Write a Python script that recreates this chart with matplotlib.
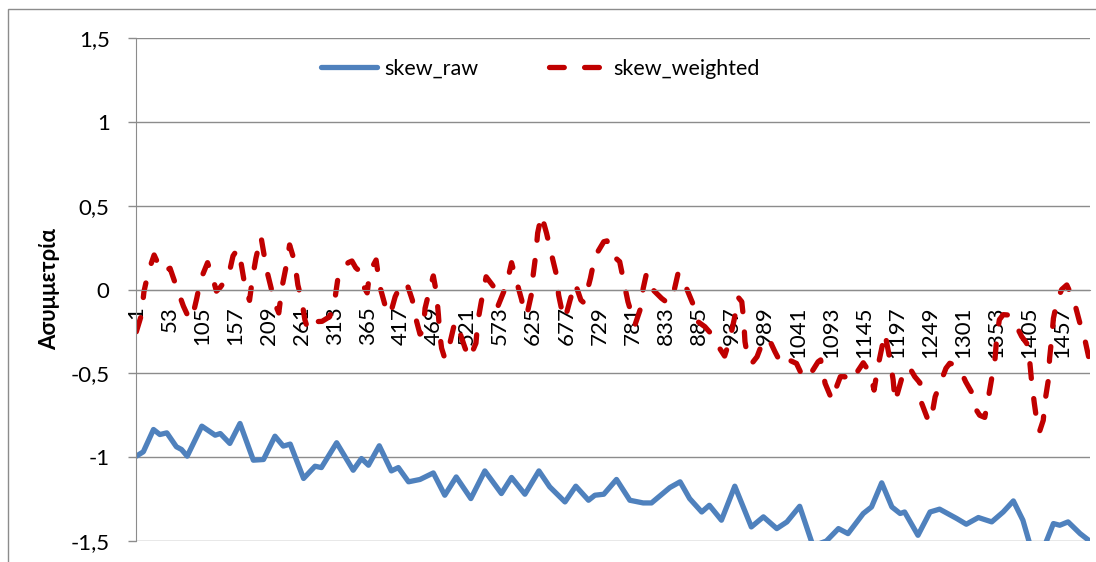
import matplotlib.pyplot as plt
from matplotlib.patches import Rectangle

plt.rcParams['font.family'] = ['Lato', 'DejaVu Sans']

n_points = 1500

# skew_raw: category index and value
raw_cat = [1, 12, 28, 38, 49, 64, 72, 81, 104, 125, 133, 148, 164, 185, 201, 219, 232, 243,
           264, 282, 292, 316, 342, 355, 366, 383, 402, 413, 429, 447, 468, 486, 504, 527,
           549, 575, 591, 612, 634, 651, 675, 692, 712, 722, 736, 756, 777, 798, 811, 840,
           856, 871, 890, 902, 921, 942, 968, 987, 1008, 1024, 1044, 1065, 1086, 1105, 1120,
           1144, 1157, 1173, 1189, 1202, 1209, 1230, 1249, 1264, 1291, 1306, 1325, 1346,
           1364, 1380, 1395, 1406, 1417, 1430, 1443, 1453, 1466, 1485, 1500]
raw_vals = [-0.994, -0.968, -0.835, -0.865, -0.855, -0.938, -0.954, -0.994, -0.815, -0.869,
            -0.859, -0.918, -0.799, -1.018, -1.014, -0.875, -0.934, -0.922, -1.127, -1.054,
            -1.062, -0.914, -1.078, -1.008, -1.048, -0.932, -1.082, -1.062, -1.147, -1.133,
            -1.094, -1.227, -1.118, -1.247, -1.082, -1.217, -1.121, -1.221, -1.082, -1.177,
            -1.267, -1.173, -1.257, -1.227, -1.221, -1.133, -1.257, -1.273, -1.273, -1.181,
            -1.147, -1.247, -1.327, -1.287, -1.376, -1.173, -1.416, -1.356, -1.426, -1.386,
            -1.293, -1.53, -1.5, -1.426, -1.456, -1.336, -1.297, -1.153, -1.297, -1.336,
            -1.327, -1.466, -1.327, -1.310, -1.366, -1.400, -1.360, -1.386, -1.327, -1.261,
            -1.376, -1.52, -1.58, -1.52, -1.396, -1.406, -1.386, -1.456, -1.5]

# skew_weighted: category index and value
weighted_cat = [1, 9, 13, 20, 29, 41, 46, 54, 64, 75, 85, 90, 96, 102, 113, 122, 127, 133,
                146, 153, 160, 164, 170, 177, 179, 184, 189, 197, 206, 214, 222, 225, 230,
                236, 242, 250, 255, 261, 266, 271, 282, 293, 305, 313, 318, 334, 340, 346,
                353, 360, 364, 368, 378, 384, 392, 400, 408, 417, 426, 435, 441, 447, 452,
                455, 462, 468, 473, 476, 478, 481, 486, 494, 502, 511, 518, 525, 535, 538,
                543, 551, 562, 570, 583, 591, 598, 607, 610, 615, 622, 625, 629, 632, 638,
                646, 654, 661, 665, 671, 675, 683, 691, 700, 705, 715, 722, 736, 741, 751,
                761, 768, 774, 785, 793, 798, 803, 811, 827, 837, 845, 853, 865, 877, 884,
                895, 909, 918, 926, 934, 942, 947, 953, 956, 958, 963, 969, 977, 987, 996,
                1005, 1016, 1027, 1039, 1050, 1060, 1073, 1077, 1084, 1095, 1100, 1108, 1115,
                1123, 1133, 1144, 1155, 1161, 1167, 1178, 1186, 1191, 1194, 1206, 1216, 1225,
                1233, 1236, 1246, 1250, 1257, 1267, 1274, 1280, 1288, 1299, 1305, 1314, 1322,
                1327, 1335, 1340, 1346, 1351, 1354, 1358, 1364, 1372, 1388, 1393, 1401, 1406,
                1409, 1413, 1416, 1421, 1427, 1430, 1435, 1437, 1440, 1443, 1449, 1456, 1464,
                1475, 1484, 1492, 1500]
weighted_vals = [-0.252, -0.152, -0.013, 0.106, 0.206, 0.106, 0.11, 0.127, 0.017, -0.099,
                 -0.182, -0.15, -0.053, 0.057, 0.16, 0.057, -0.01, 0.013, 0.081, 0.2, 0.24,
                 0.196, 0.061, -0.043, -0.065, 0.076, 0.186, 0.315, 0.116, -0.007, -0.112,
                 -0.14, 0.013, 0.127, 0.266, 0.166, 0.027, -0.063, -0.18, -0.242, -0.192,
                 -0.19, -0.162, -0.063, 0.067, 0.16, 0.17, 0.13, 0.106, 0.007, -0.02, 0.106,
                 0.176, 0.017, -0.093, -0.152, -0.043, 0.03, 0.04, -0.063, -0.18, -0.266,
                 -0.25, -0.112, -0.003, 0.081, -0.023, -0.152, -0.261, -0.35, -0.411, -0.321,
                 -0.192, -0.272, -0.35, -0.411, -0.32, -0.19, -0.082, 0.076, 0.021, -0.095,
                 0.027, 0.16, 0.06, -0.063, -0.13, -0.152, -0.033, 0.087, 0.206, 0.336, 0.445,
                 0.336, 0.206, 0.097, -0.033, -0.142, -0.175, -0.063, 0.037, -0.063, -0.08,
                 0.067, 0.196, 0.285, 0.29, 0.2, 0.166, 0.037, -0.073, -0.212, -0.122, 0.007,
                 0.093, 0.007, -0.053, -0.082, -0.033, 0.1, 0.017, -0.093, -0.192, -0.222,
                 -0.282, -0.35, -0.397, -0.301, -0.162, -0.045, -0.073, -0.182, -0.311,
                 -0.421, -0.44, -0.401, -0.301, -0.297, -0.37, -0.451, -0.42, -0.441, -0.53,
                 -0.51, -0.431, -0.42, -0.56, -0.66, -0.6, -0.52, -0.52, -0.55, -0.5, -0.437,
                 -0.5, -0.6, -0.46, -0.26, -0.42, -0.54, -0.67, -0.51, -0.461, -0.52, -0.556,
                 -0.68, -0.78, -0.79, -0.64, -0.54, -0.47, -0.44, -0.45, -0.5, -0.55, -0.61,
                 -0.72, -0.75, -0.763, -0.66, -0.53, -0.42, -0.28, -0.18, -0.15, -0.152,
                 -0.242, -0.28, -0.321, -0.44, -0.56, -0.68, -0.76, -0.849, -0.78, -0.66,
                 -0.54, -0.41, -0.30, -0.172, -0.063, 0.0, 0.027, -0.063, -0.192, -0.291, -0.43]

y_ticks = [-1.5, -1, -0.5, 0, 0.5, 1, 1.5]
y_tick_labels = ['-1,5', '-1', '-0,5', '0', '0,5', '1', '1,5']
x_tick_cats = list(range(1, n_points, 52))

grid_color = '#8c8c8c'
font_size = 16

fig = plt.figure(figsize=(10.96, 5.62), dpi=100)
ax = fig.add_axes([136 / 1096, 21 / 562, 954 / 1096, 503 / 562])

# chart frame
fig.patches.append(Rectangle((8 / 1096, -0.1), 1.2, 1.1 - 9 / 562, transform=fig.transFigure,
                             fill=False, edgecolor=grid_color, linewidth=1.0))

ax.plot(raw_cat, raw_vals, color='#4f81bd', linewidth=3.8, solid_capstyle='round',
        solid_joinstyle='round', label='skew_raw')
ax.plot(weighted_cat, weighted_vals, color='#c00000', linewidth=3.8,
        linestyle=(0, (2.8, 3.85)), dash_capstyle='round', dash_joinstyle='round',
        label='skew_weighted')

ax.set_xlim(0.5, n_points + 0.5)
ax.set_ylim(-1.5, 1.5)

ax.set_yticks(y_ticks)
ax.set_yticklabels(y_tick_labels)
ax.yaxis.grid(True, color=grid_color, linewidth=1.0)
ax.set_axisbelow(True)
ax.tick_params(axis='y', length=6, width=1.0, color=grid_color, pad=13, labelsize=font_size)

# category axis crosses at zero
ax.spines['bottom'].set_position(('data', 0))
ax.spines['bottom'].set_color(grid_color)
ax.spines['left'].set_color(grid_color)
ax.spines['top'].set_visible(False)
ax.spines['right'].set_visible(False)
ax.set_xticks(x_tick_cats)
ax.set_xticklabels([str(c) for c in x_tick_cats], rotation=90)
ax.tick_params(axis='x', length=0, pad=12, labelsize=font_size)

fig.text(50 / 1096, 1 - 289.5 / 562, 'Ασυμμετρία', rotation=90, ha='center', va='center',
         fontsize=font_size, fontweight='bold')

fig.legend(loc='center', bbox_to_anchor=(540 / 1096, 1 - 69 / 562), ncol=2, frameon=False,
           fontsize=15.5, handlelength=2.6, handletextpad=0.35, columnspacing=3.3)

fig.savefig('out.png', dpi=100)
